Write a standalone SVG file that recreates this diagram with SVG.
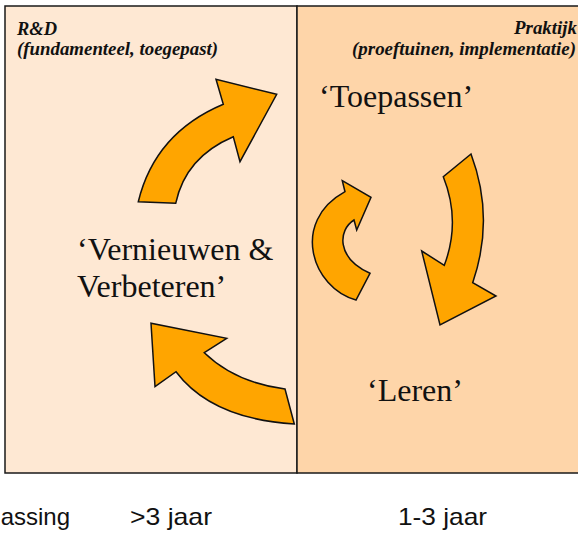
<svg xmlns="http://www.w3.org/2000/svg" width="578" height="533" viewBox="0 0 578 533">
<style>
.arrow{fill:#FFA500;stroke:#111;stroke-width:1.5;stroke-linejoin:miter}
.hd{font-family:"Liberation Serif","Times New Roman",serif;font-weight:bold;font-style:italic;font-size:18px;fill:#111}
.big{font-family:"Liberation Serif","Times New Roman",serif;font-size:32px;fill:#111}
.ax{font-family:"Liberation Sans",Arial,sans-serif;font-size:24px;fill:#111}
</style>
<rect width="578" height="533" fill="#ffffff"/>
<g id="panel-rd">
<rect x="5" y="6" width="292" height="467" fill="#FEE8D3" stroke="#1a1a1a" stroke-width="1.5"/>
<text class="hd" x="17" y="35" textLength="40" lengthAdjust="spacingAndGlyphs">R&amp;D</text>
<text class="hd" x="17" y="55" textLength="201" lengthAdjust="spacingAndGlyphs">(fundamenteel, toegepast)</text>
<text class="big" x="77" y="260">‘Vernieuwen &amp;</text>
<text class="big" x="77" y="297">Verbeteren’</text>
</g>
<g id="panel-praktijk">
<rect x="297" y="6" width="300" height="467" fill="#FED5A9" stroke="#1a1a1a" stroke-width="1.5"/>
<text class="hd" x="514" y="34" textLength="63" lengthAdjust="spacingAndGlyphs">Praktijk</text>
<text class="hd" x="352" y="55" textLength="224" lengthAdjust="spacingAndGlyphs">(proeftuinen, implementatie)</text>
<text class="big" x="319" y="107">‘Toepassen’</text>
<text class="big" x="367" y="401">‘Leren’</text>
</g>
<g id="connectors">
<path id="arrow-up" class="arrow" d="M138.3,201.7 Q155,133 223.3,104.3 L216,79.3 L276.7,94.3 L240,161.7 L233.3,136.7 Q185.5,157 175.7,203.3 Z"/>
<path id="arrow-down" class="arrow" d="M471,154 L443.3,176.7 Q461,221 444.3,265.3 L421.7,251 L440,325 L496,296 L472.7,282.7 Q495,218 471,154 Z"/>
<path id="arrow-left" class="arrow" d="M294.3,424 L285,389 Q235.3,382.5 204.3,352.7 L226.7,338.3 L151,323.3 L155,386.7 L176,371.7 Q211.5,418.8 294.3,424 Z"/>
<path id="arrow-cycle" class="arrow" d="M342.3,180.7 L371,197.3 L356.7,230 L354,220 C338,230 336,258 370,273.3 L356,300 C312,288 290,222 345,191.7 Z"/>
</g>
<g id="axis">
<text class="ax" x="70" y="525" text-anchor="end">assing</text>
<text class="ax" x="130" y="525" textLength="82" lengthAdjust="spacingAndGlyphs">&gt;3 jaar</text>
<text class="ax" x="398" y="525" textLength="89" lengthAdjust="spacingAndGlyphs">1-3 jaar</text>
</g>
</svg>
